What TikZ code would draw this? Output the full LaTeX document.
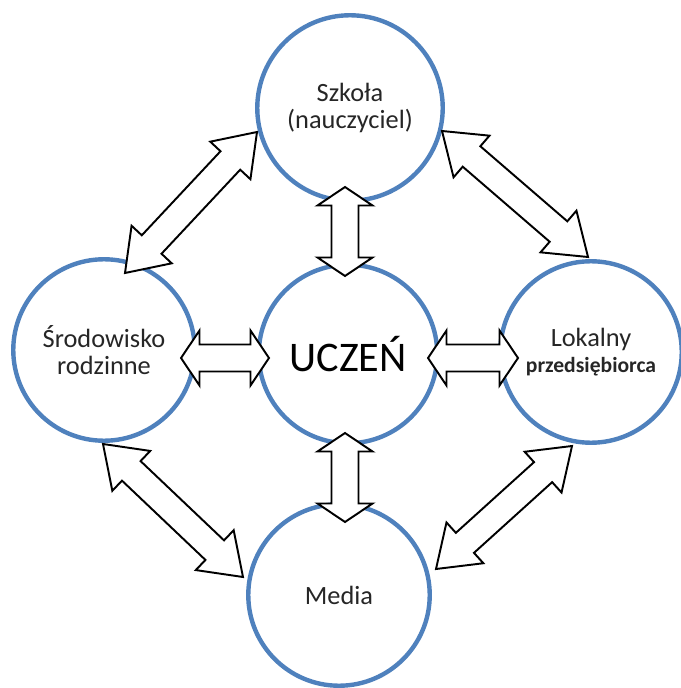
\documentclass[tikz,border=0pt]{standalone}
\usepackage{fontspec}
\setmainfont{Carlito}
\usetikzlibrary{calc}
\definecolor{ringblue}{RGB}{79,129,189}
\definecolor{txtgray}{RGB}{38,38,38}
% block double arrow: head length, tip, tip
\newcommand{\blockarrow}[3]{%
  \draw[barr] (#2)
    -- ($(#2)!#1!(#3)!0.55cm!90:(#3)$)
    -- ($(#2)!#1!(#3)!0.27cm!90:(#3)$)
    -- ($(#3)!#1!(#2)!0.27cm!-90:(#2)$)
    -- ($(#3)!#1!(#2)!0.55cm!-90:(#2)$)
    -- (#3)
    -- ($(#3)!#1!(#2)!0.55cm!90:(#2)$)
    -- ($(#3)!#1!(#2)!0.27cm!90:(#2)$)
    -- ($(#2)!#1!(#3)!0.27cm!-90:(#3)$)
    -- ($(#2)!#1!(#3)!0.55cm!-90:(#3)$)
    -- cycle;}
\tikzset{
  circ/.style={circle, draw=ringblue, line width=2.5pt, fill=white, inner sep=0pt,
    minimum size=3.63cm, align=center, text=txtgray, font=\fontsize{15}{15.5}\selectfont},
  barr/.style={draw=black, fill=white, line width=1.1pt},
}

\begin{document}
\begin{tikzpicture}[x=0.02cm,y=0.02cm]
\useasboundingbox (0,0) rectangle (680,-688);
% circles
\node[circ, minimum size=3.71cm] (szk) at (350,-108) {Szkoła\\(nauczyciel)};
\node[circ, minimum size=3.57cm, font=\fontsize{24}{26}\selectfont, text=black] (ucz) at (348,-354) {UCZEŃ};
\node[circ] (fam) at (104,-350) {Środowisko\\rodzinne};
\node[circ] (lok) at (591,-352) {Lokalny\\[-1pt]{\fontsize{12.3}{13}\selectfont\bfseries przedsiębiorca}};
\node[circ] (med) at (339,-595) {Media};
% arrow tips
\coordinate (tl1) at ($(fam)+(21,77)$);
\coordinate (tl2) at ($(szk)+(-93,-24)$);
\coordinate (tr1) at ($(szk)+(92,-23)$);
\coordinate (tr2) at ($(lok)+(-3,95)$);
\coordinate (bl1) at ($(fam)+(-1,-94)$);
\coordinate (bl2) at ($(med)+(-96,18)$);
\coordinate (br1) at ($(lok)+(-19,-94)$);
\coordinate (br2) at ($(med)+(97,26)$);
\coordinate (tv1) at ($(szk)+(-5,-79)$);
\coordinate (tv2) at ($(ucz)+(-3,78)$);
\coordinate (bv1) at ($(ucz)+(-3,-79)$);
\coordinate (bv2) at ($(med)+(6,73)$);
\coordinate (lh1) at ($(fam)+(77,-8)$);
\coordinate (lh2) at ($(ucz)+(-79,-4)$);
\coordinate (rh1) at ($(ucz)+(80,-4)$);
\coordinate (rh2) at ($(lok)+(-73,-6)$);
% arrows
\blockarrow{0.78cm}{tl1}{tl2}
\blockarrow{0.78cm}{tr1}{tr2}
\blockarrow{0.78cm}{bl1}{bl2}
\blockarrow{0.78cm}{br1}{br2}
\blockarrow{0.37cm}{tv1}{tv2}
\blockarrow{0.37cm}{bv1}{bv2}
\blockarrow{0.37cm}{lh1}{lh2}
\blockarrow{0.37cm}{rh1}{rh2}
\end{tikzpicture}
\end{document}
